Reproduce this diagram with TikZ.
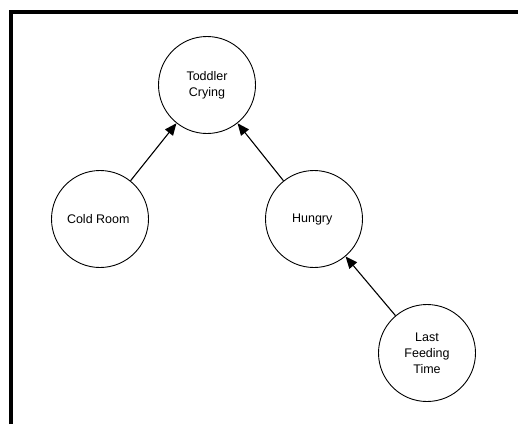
\documentclass[tikz,border=0pt]{standalone}
\usepackage{fontspec}
\setmainfont{Liberation Sans}
\usetikzlibrary{arrows.meta}

\begin{document}
\begin{tikzpicture}[
            x=1pt, y=1pt,
            level distance=134pt,
            edge from parent/.style={draw, line width=1.1pt, {Triangle[length=12pt,width=10pt]}-},
            every node/.style={draw, circle, line width=0.9pt, minimum size=97pt, inner sep=0pt, align=center,
                               font=\fontsize{12.5}{16}\selectfont},
            level 1/.style={sibling distance=214pt}, % Cold Room and Hungry
            level 2/.style={sibling distance=226pt}  % push Last Feeding Time to the right
          ]
          \useasboundingbox (0,0) rectangle (518,-424);

          % Frame (only top and left edges show)
          \draw[line width=4pt] (11,-424) -- (11,-12) -- (518,-12);

          % Root node
          \node (crying) at (207,-85) { Toddler\\Crying }
            % Left subtree
            child { node (cold) { Cold Room } }
            % Right subtree
            child { node (hungry) { Hungry }
              child[missing] {}
              child { node (feeding) { Last\\Feeding\\Time } }
            };

        \end{tikzpicture}
\end{document}
